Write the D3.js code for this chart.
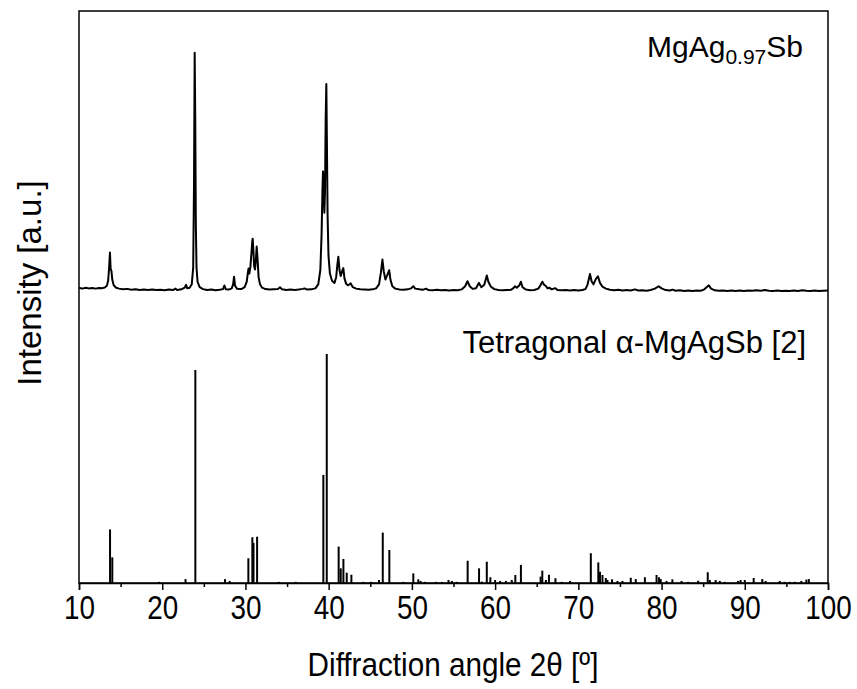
<!DOCTYPE html>
<html>
<head>
<meta charset="utf-8">
<script src="https://cdn.jsdelivr.net/npm/d3@7"></script>
<style>
  body { margin: 0; background: #fff; }
  svg { display: block; }
  text { font-family: Arial, "Liberation Sans", sans-serif; fill: #000; }
</style>
</head>
<body>
<svg id="chart" width="857" height="689"></svg>
<script>
// measured pattern, MgAg0.97Sb: [2theta, intensity (arb., strongest = 100)]
var measured = [
  [10.0, 1.6], [10.4, 1.2], [10.8, 1.6], [11.2, 1.3], [11.6, 1.5], [12.0, 1.2], [12.4, 1.5],
  [12.8, 1.4], [13.1, 1.7], [13.35, 2.4], [13.5, 4.5], [13.62, 10.0], [13.72, 16.3], [13.8, 9.5],
  [13.9, 8.5], [14.0, 5.0], [14.15, 2.8], [14.4, 1.7], [14.8, 1.2], [15.3, 0.9], [15.8, 1.1],
  [16.3, 0.7], [16.8, 0.9], [17.3, 0.6], [17.8, 0.8], [18.3, 0.6], [18.8, 0.8], [19.3, 0.6],
  [19.8, 0.7], [20.3, 0.5], [20.8, 0.8], [21.3, 0.6], [21.6, 1.2], [21.8, 0.6], [22.3, 0.9],
  [22.7, 1.6], [22.86, 2.8], [23.0, 1.4], [23.3, 1.6], [23.55, 3.0], [23.72, 10.0], [23.82, 45.0],
  [23.9, 100.0], [23.97, 72.0], [24.04, 28.0], [24.12, 10.0], [24.25, 4.0], [24.5, 1.8],
  [24.9, 1.0], [25.4, 0.6], [25.9, 0.8], [26.4, 0.5], [26.9, 0.7], [27.3, 1.0], [27.47, 2.5],
  [27.65, 0.9], [28.0, 0.8], [28.35, 1.3], [28.52, 3.0], [28.63, 6.2], [28.75, 2.4], [29.0, 1.1],
  [29.5, 1.0], [29.9, 1.8], [30.15, 4.0], [30.3, 8.0], [30.37, 9.6], [30.47, 7.5], [30.6, 10.5],
  [30.72, 16.0], [30.82, 21.0], [30.87, 22.1], [30.95, 17.5], [31.05, 10.5], [31.15, 9.2],
  [31.25, 13.0], [31.35, 18.8], [31.45, 14.0], [31.58, 6.0], [31.75, 3.0], [32.0, 1.6],
  [32.4, 1.0], [32.9, 0.8], [33.4, 0.9], [33.9, 1.0], [34.15, 1.8], [34.4, 0.9], [34.9, 0.6],
  [35.4, 0.8], [35.9, 0.6], [36.4, 0.8], [36.9, 1.1], [37.1, 1.3], [37.4, 0.8], [37.9, 0.9],
  [38.4, 1.3], [38.75, 3.0], [39.0, 9.0], [39.15, 24.0], [39.25, 42.0], [39.32, 50.3],
  [39.4, 44.0], [39.48, 33.0], [39.56, 42.0], [39.64, 72.0], [39.72, 86.9], [39.79, 62.0],
  [39.87, 32.0], [39.98, 15.0], [40.15, 7.5], [40.4, 4.5], [40.7, 3.6], [40.9, 6.0],
  [41.04, 11.0], [41.16, 14.6], [41.3, 9.0], [41.45, 6.5], [41.62, 8.5], [41.76, 9.8],
  [41.9, 5.5], [42.1, 3.2], [42.3, 2.6], [42.5, 3.0], [42.65, 3.4], [42.9, 1.8], [43.3, 1.2],
  [43.8, 0.9], [44.3, 0.8], [44.8, 0.7], [45.3, 0.9], [45.7, 1.3], [46.05, 3.0], [46.28, 8.0],
  [46.46, 13.4], [46.62, 8.5], [46.82, 5.0], [47.05, 7.0], [47.27, 8.9], [47.42, 5.0],
  [47.65, 2.2], [48.0, 1.2], [48.5, 0.8], [49.0, 0.7], [49.5, 0.9], [49.9, 1.3], [50.17, 2.2],
  [50.4, 1.2], [50.9, 0.9], [51.3, 0.7], [51.7, 1.2], [52.0, 0.6], [52.5, 0.5], [53.0, 0.7],
  [53.5, 0.5], [54.0, 0.6], [54.5, 0.4], [55.0, 0.6], [55.5, 0.5], [56.0, 0.9], [56.4, 2.2],
  [56.68, 4.3], [56.95, 2.2], [57.3, 1.1], [57.7, 1.4], [58.05, 3.6], [58.35, 1.8], [58.7, 2.8],
  [59.0, 6.7], [59.2, 4.0], [59.5, 2.0], [59.9, 1.0], [60.4, 0.6], [60.9, 0.5], [61.4, 0.6],
  [61.9, 0.7], [62.2, 1.4], [62.4, 2.2], [62.6, 1.6], [62.9, 2.5], [63.1, 4.1], [63.3, 1.8],
  [63.7, 0.8], [64.2, 0.5], [64.7, 0.6], [65.2, 1.2], [65.45, 2.6], [65.68, 4.1], [65.88, 2.8],
  [66.05, 2.5], [66.3, 1.3], [66.5, 1.6], [66.8, 0.9], [67.2, 1.4], [67.5, 0.6], [68.0, 0.5],
  [68.5, 0.6], [69.0, 0.4], [69.5, 0.6], [70.0, 0.4], [70.5, 0.6], [70.85, 1.0], [71.1, 2.8],
  [71.4, 7.3], [71.6, 4.2], [71.82, 3.0], [72.1, 5.2], [72.35, 6.4], [72.6, 3.6], [72.9, 2.0],
  [73.3, 1.2], [73.8, 0.7], [74.3, 0.5], [74.8, 0.7], [75.3, 0.4], [75.8, 0.6], [76.3, 0.4],
  [76.8, 0.9], [77.2, 0.4], [77.7, 0.5], [78.2, 0.3], [78.7, 0.6], [79.2, 1.2], [79.65, 2.2],
  [80.0, 1.3], [80.5, 0.6], [81.0, 0.4], [81.3, 0.8], [81.7, 0.3], [82.2, 0.5], [82.7, 0.2],
  [83.2, 0.4], [83.7, 0.2], [84.2, 0.4], [84.7, 0.3], [85.1, 0.8], [85.45, 1.9], [85.68, 2.6],
  [85.95, 1.2], [86.4, 0.5], [86.9, 0.3], [87.4, 0.4], [87.9, 0.2], [88.4, 0.4], [88.9, 0.2],
  [89.4, 0.4], [89.9, 0.2], [90.4, 0.4], [90.9, 0.3], [91.4, 0.5], [91.9, 0.3], [92.4, 0.6],
  [92.9, 0.3], [93.4, 0.2], [93.9, 0.4], [94.4, 0.2], [94.9, 0.3], [95.4, 0.2], [95.9, 0.4],
  [96.4, 0.2], [96.9, 0.5], [97.4, 0.3], [97.9, 0.2], [98.4, 0.4], [98.9, 0.2], [99.4, 0.3],
  [100.0, 0.4]
];

// reference pattern, tetragonal alpha-MgAgSb [2]: positions and relative intensities
var refAngles = [
  13.73, 14.0, 19.6, 22.8, 23.98, 27.55, 28.1, 30.35, 30.83, 30.97, 31.4, 34.0, 36.04,
  39.36, 39.77, 41.2, 41.45, 41.77, 42.17, 42.73, 44.17, 45.1, 46.05, 46.5, 47.29, 48.97,
  50.17, 50.77, 51.05, 51.57, 52.9, 53.6, 54.4, 54.8, 55.4, 56.7, 58.07, 58.4, 59.0, 59.43,
  60.0, 60.6, 61.3, 62.0, 62.43, 63.1, 65.47, 65.67, 66.1, 66.47, 67.25, 68.0, 69.0,
  71.5, 72.4, 72.6, 72.9, 73.3, 73.5, 74.05, 74.7, 75.3, 76.3, 76.9, 78.0, 79.4, 79.7, 79.9,
  80.6, 81.3, 82.4, 83.2, 84.4, 85.55, 85.8, 86.5, 87.0, 87.6, 89.2, 89.5, 90.0, 91.07,
  92.1, 92.5, 94.2, 94.8, 95.4, 96.0, 96.8, 97.4, 97.7
];
var refIntensities = [
  23.4, 11.2, 0.5, 1.7, 93.0, 1.7, 0.9, 10.8, 20.0, 17.5, 20.2, 0.5, 0.5,
  47.2, 100.0, 15.9, 6.4, 10.5, 4.5, 3.6, 0.5, 0.5, 1.3, 22.0, 14.4, 0.5,
  4.2, 1.6, 0.9, 0.5, 0.5, 0.5, 1.3, 0.9, 0.5, 9.7, 6.4, 0.6, 9.3, 2.5,
  1.3, 0.9, 0.9, 1.3, 3.5, 7.9, 2.8, 5.4, 1.3, 3.6, 2.1, 0.5, 0.9,
  13.0, 9.0, 4.9, 3.5, 2.2, 1.3, 1.6, 0.9, 0.9, 2.3, 1.7, 2.5, 3.5, 2.5, 1.7,
  0.9, 1.6, 0.9, 0.5, 1.0, 4.7, 1.3, 1.3, 0.9, 0.5, 0.9, 1.3, 1.3, 2.2,
  1.7, 0.9, 0.9, 0.5, 0.5, 0.5, 0.9, 1.5, 1.7
];

var xTicks = [10, 20, 30, 40, 50, 60, 70, 80, 90, 100];
var xMinorTicks = [15, 25, 35, 45, 55, 65, 75, 85, 95];

var labelMeasured = { main: "MgAg", sub: "0.97", tail: "Sb" };
var labelReference = "Tetragonal \u03B1-MgAgSb [2]";
var xTitle = "Diffraction angle 2\u03B8 [\u00BA]";
var yTitle = "Intensity [a.u.]";

var svg = d3.select("#chart");
var plotLeft = 79, plotRight = 828, plotTop = 11, plotBottom = 583;

var x = d3.scaleLinear().domain([10, 100]).range([plotLeft, plotRight]);
// two stacked panels sharing one frame
var yMeasured = d3.scaleLinear().domain([0, 100]).range([291.5, 52.7]);
var yRef = d3.scaleLinear().domain([0, 100]).range([plotBottom, 354]);

var refData = refAngles.map(function(a, i) { return { angle: a, intensity: refIntensities[i] }; });

// sticks
svg.append("g")
    .selectAll("line")
    .data(refData)
    .join("line")
    .attr("x1", d => x(d.angle))
    .attr("x2", d => x(d.angle))
    .attr("y1", yRef(0))
    .attr("y2", d => yRef(d.intensity))
    .attr("stroke", "#000")
    .attr("stroke-width", 2);

// measured trace
var line = d3.line()
    .x(d => x(d[0]))
    .y(d => yMeasured(d[1]));

svg.append("path")
    .datum(measured)
    .attr("d", line)
    .attr("fill", "none")
    .attr("stroke", "#000")
    .attr("stroke-width", 2)
    .attr("stroke-linejoin", "round");

// frame
svg.append("rect")
    .attr("x", plotLeft)
    .attr("y", plotTop)
    .attr("width", plotRight - plotLeft)
    .attr("height", plotBottom - plotTop)
    .attr("fill", "none")
    .attr("stroke", "#000")
    .attr("stroke-width", 1.5);

// x axis (narrow-looking labels: regular face squeezed horizontally)
var xAxis = svg.append("g")
    .attr("transform", "translate(0," + plotBottom + ")")
    .call(d3.axisBottom(x).tickValues(xTicks).tickSize(7).tickPadding(5).tickFormat(d3.format("d")));
xAxis.select(".domain").attr("stroke-width", 1.5);
xAxis.selectAll(".tick line").attr("stroke-width", 1.5);
xAxis.selectAll(".tick text")
    .attr("transform", "scale(0.82,1)")
    .style("font-size", "34px");

svg.append("g")
    .attr("transform", "translate(0," + plotBottom + ")")
    .call(d3.axisBottom(x).tickValues(xMinorTicks).tickSize(4).tickFormat(""))
    .call(g => g.select(".domain").remove())
    .selectAll(".tick line").attr("stroke-width", 1.5);

// axis titles
svg.append("text")
    .attr("transform", "translate(453,676) scale(0.9,1)")
    .attr("text-anchor", "middle")
    .style("font-size", "33px")
    .text(xTitle);

svg.append("text")
    .attr("transform", "translate(41,283) rotate(-90)")
    .attr("text-anchor", "middle")
    .style("font-size", "33px")
    .text(yTitle);

// pattern labels
var t1 = svg.append("text")
    .attr("x", 803)
    .attr("y", 57)
    .attr("text-anchor", "end")
    .style("font-size", "30px");
t1.append("tspan").text(labelMeasured.main);
t1.append("tspan").attr("dy", 7).style("font-size", "21px").text(labelMeasured.sub);
t1.append("tspan").attr("dy", -7).text(labelMeasured.tail);

svg.append("text")
    .attr("x", 806)
    .attr("y", 353)
    .attr("text-anchor", "end")
    .style("font-size", "31px")
    .text(labelReference);
</script>
</body>
</html>
